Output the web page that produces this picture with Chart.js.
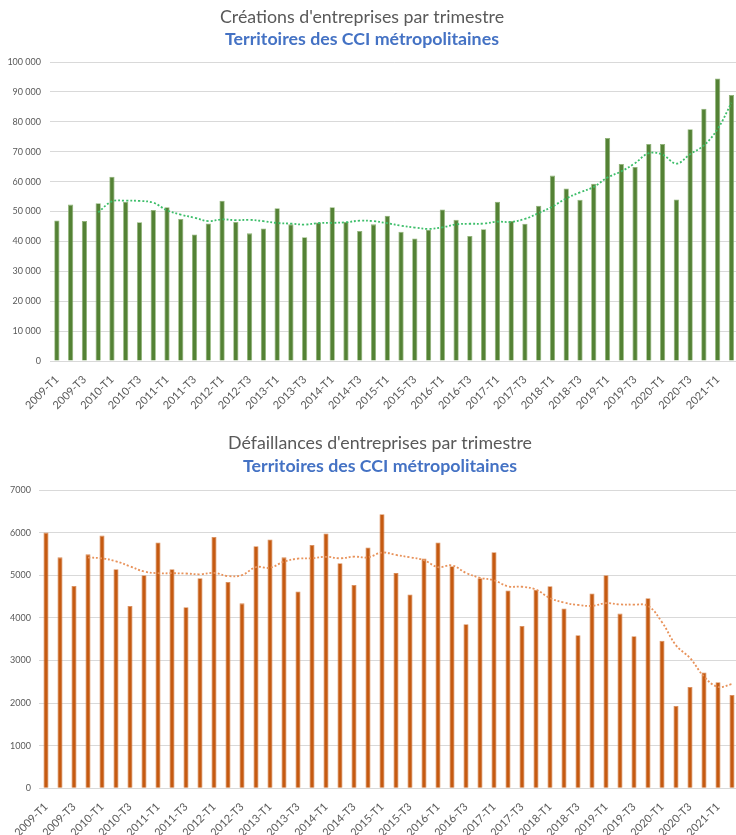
<!DOCTYPE html>
<html>
<head>
<meta charset="utf-8">
<script src="https://cdn.jsdelivr.net/npm/chart.js@4/dist/chart.umd.min.js"></script>
<style>
html,body{margin:0;padding:0;background:#fff;overflow:hidden;}
#wrap{width:736px;height:835px;position:relative;overflow:hidden;}
.c{position:absolute;left:0;}
</style>
</head>
<body>
<div id="wrap">
<div class="c" style="top:0;width:740px;height:420px;"><canvas id="c1" width="740" height="420"></canvas></div>
<div class="c" style="top:420px;width:740px;height:415px;"><canvas id="c2" width="740" height="415"></canvas></div>
</div>
<script>
// Quarter labels 2009-T1 .. 2021-T2
const quarters = [
 "2009-T1","2009-T2","2009-T3","2009-T4",
 "2010-T1","2010-T2","2010-T3","2010-T4",
 "2011-T1","2011-T2","2011-T3","2011-T4",
 "2012-T1","2012-T2","2012-T3","2012-T4",
 "2013-T1","2013-T2","2013-T3","2013-T4",
 "2014-T1","2014-T2","2014-T3","2014-T4",
 "2015-T1","2015-T2","2015-T3","2015-T4",
 "2016-T1","2016-T2","2016-T3","2016-T4",
 "2017-T1","2017-T2","2017-T3","2017-T4",
 "2018-T1","2018-T2","2018-T3","2018-T4",
 "2019-T1","2019-T2","2019-T3","2019-T4",
 "2020-T1","2020-T2","2020-T3","2020-T4",
 "2021-T1","2021-T2"
];

// Créations d'entreprises
const creations = [
 47000,52300,46800,52800,
 61600,53300,46400,50500,
 51400,47500,42300,46000,
 53600,46500,42700,44300,
 51100,45700,41400,46300,
 51400,46500,43500,45700,
 48600,43200,41000,43900,
 50700,47200,41800,44100,
 53300,46800,45900,51900,
 62000,57700,53900,59300,
 74600,65900,64900,72600,
 72600,54000,77500,84400,
 94500,89000
];

// Défaillances d'entreprises
const defaillances = [
 6000,5420,4750,5490,
 5930,5140,4280,5000,
 5770,5140,4250,4930,
 5900,4840,4340,5680,
 5840,5420,4620,5710,
 5980,5280,4770,5650,
 6430,5050,4550,5390,
 5770,5210,3850,4930,
 5540,4640,3810,4660,
 4740,4220,3590,4570,
 5000,4100,3570,4460,
 3460,1930,2380,2720,
 2490,2190
];

const yTicksCreations = [0,10000,20000,30000,40000,50000,60000,70000,80000,90000,100000];
const yTicksDefaillances = [0,1000,2000,3000,4000,5000,6000,7000];

const titles1 = ["Créations d'entreprises par trimestre", "Territoires des CCI métropolitaines"];
const titles2 = ["Défaillances d'entreprises par trimestre", "Territoires des CCI métropolitaines"];

// 4-period moving average trendline (as in the spreadsheet trendline)
function movingAvg(arr, n){
  return arr.map((v,i)=>{
    if(i < n-1) return null;
    let s=0; for(let k=i-n+1;k<=i;k++) s+=arr[k];
    return s/n;
  });
}

function fmtSpace(v){
  return String(v).replace(/\B(?=(\d{3})+(?!\d))/g, ' ');
}

function titlePlugin(lines, cx, y1, y2){
  return {
    id:'customTitles',
    afterDraw(chart){
      const ctx = chart.ctx;
      ctx.save();
      ctx.textAlign='center';
      ctx.textBaseline='middle';
      ctx.fillStyle='#595959';
      ctx.font='17.8px Lato, "Open Sans", sans-serif';
      ctx.fillText(lines[0], cx, y1);
      ctx.fillStyle='#4472C4';
      ctx.font='bold 17.8px Lato, "Open Sans", sans-serif';
      ctx.fillText(lines[1], cx, y2);
      ctx.restore();
    }
  };
}

function makeChart(id, cfg){
  const tickVals = cfg.ticks;
  return new Chart(document.getElementById(id), {
    type:'bar',
    data:{
      labels: quarters,
      datasets:[
        {
          type:'line',
          data: movingAvg(cfg.values, 4),
          borderColor: cfg.trendColor,
          borderWidth: 1.8,
          borderDash:[2,2],
          pointRadius:0,
          tension:0.4,
          fill:false
        },
        {
          type:'bar',
          data: cfg.values,
          backgroundColor: cfg.barColor,
          borderColor: cfg.barBorder,
          borderWidth: 0.8,
          barPercentage: cfg.barPct,
          categoryPercentage: 1
        }
      ]
    },
    options:{
      responsive:false,
      animation:false,
      events:[],
      layout:{padding:{top:cfg.padTop,left:0,right:cfg.padRight,bottom:0}},
      plugins:{legend:{display:false},tooltip:{enabled:false},title:{display:false}},
      scales:{
        x:{
          offset:true,
          grid:{display:false, drawTicks:false},
          border:{display:true,color:'#D9D9D9',width:1},
          ticks:{
            autoSkip:false,
            minRotation:45,maxRotation:45,
            padding:12,
            color:'#595959',
            font:{family:'Lato, "Open Sans", sans-serif',size:11},
            callback:function(v,i){ return i%2===0 ? quarters[i] : ''; }
          },
          afterFit(scale){
            scale.height = cfg.xHeight;
            scale.paddingLeft = 0; scale.paddingRight = 0;
          }
        },
        y:{
          min:0,max:tickVals[tickVals.length-1],
          afterBuildTicks(scale){ scale.ticks = tickVals.map(v=>({value:v})); },
          grid:{color:'#D9D9D9',lineWidth:1,drawTicks:false},
          border:{display:false},
          ticks:{
            padding:cfg.yPad,
            color:'#595959',
            font:{family:'Lato, "Open Sans", sans-serif',size:9},
            callback: cfg.yFmt
          },
          afterFit(scale){
            scale.width = cfg.yWidth;
            scale.paddingTop = 0; scale.paddingBottom = 0;
          }
        }
      }
    },
    plugins:[titlePlugin(cfg.titles, cfg.titleX, cfg.t1y, cfg.t2y)]
  });
}

makeChart('c1',{
  values: creations,
  ticks: yTicksCreations,
  titles: titles1,
  titleX: 362, t1y: 17, t2y: 39,
  barColor:'#548235', barBorder:'#8DB374', trendColor:'#3DBE6A',
  barPct:0.38,
  padTop:62, padRight:1.7, xHeight:59, yWidth:50, yPad:9,
  yFmt:(v)=>fmtSpace(v)
});

makeChart('c2',{
  values: defaillances,
  ticks: yTicksDefaillances,
  titles: titles2,
  titleX: 380, t1y: 23, t2y: 46,
  barColor:'#C55A11', barBorder:'#D98A55', trendColor:'#E8925A',
  barPct:0.36,
  padTop:70, padRight:1, xHeight:46.7, yWidth:39, yPad:8,
  yFmt:(v)=>String(v)
});
</script>
</body>
</html>
